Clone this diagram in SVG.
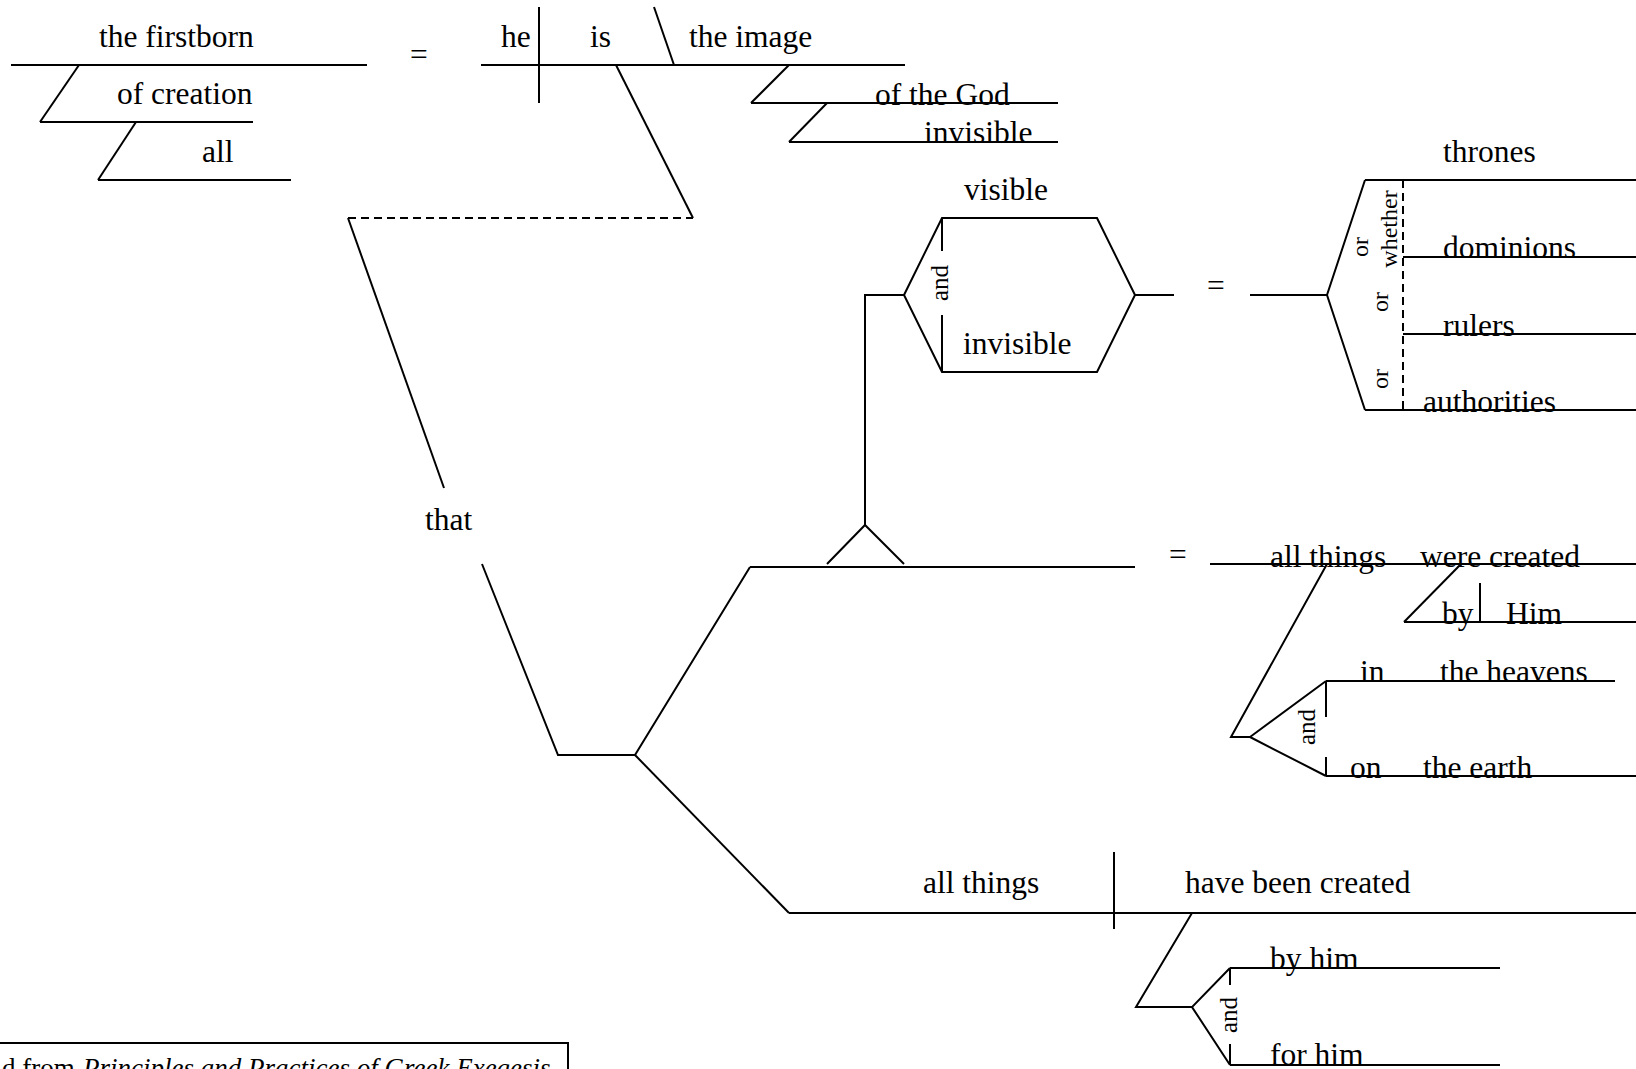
<svg xmlns="http://www.w3.org/2000/svg" width="1636" height="1069" viewBox="0 0 1636 1069">
  <style>
    .ln { stroke: #000; stroke-width: 2; fill: none; }
    .dash { stroke-dasharray: 8 5; }
    .t { font-family: "Liberation Serif", "Times New Roman", serif; font-size: 31.5px; fill: #000; }
    .s { font-size: 24px; }
    .c { font-size: 25px; }
    .f { font-size: 27px; }
  </style>
  <rect width="1636" height="1069" fill="#fff"/>

  <!-- subject complement: the firstborn of all creation -->
  <g id="n-firstborn">
    <line class="ln" x1="11" y1="65" x2="367" y2="65"/>
    <text class="t" x="99" y="47">the firstborn</text>
  </g>
  <g id="n-creation">
    <line class="ln" x1="40" y1="122" x2="253" y2="122"/>
    <text class="t" x="117" y="104">of creation</text>
  </g>
  <g id="n-all">
    <line class="ln" x1="98" y1="180" x2="291" y2="180"/>
    <text class="t" x="202" y="162">all</text>
  </g>
  <text id="eq-1" class="t" x="410" y="65">=</text>

  <!-- main clause: he is the image -->
  <g id="n-main">
    <line class="ln" x1="481" y1="65" x2="905" y2="65"/>
    <line class="ln" x1="539" y1="7" x2="539" y2="103"/>
    <line class="ln" x1="654" y1="7" x2="674" y2="65"/>
    <text class="t" x="501" y="47">he</text>
    <text class="t" x="590" y="47">is</text>
    <text class="t" x="689" y="47">the image</text>
  </g>
  <g id="n-god">
    <line class="ln" x1="751" y1="103" x2="1058" y2="103"/>
    <text class="t" x="875" y="105">of the God</text>
  </g>
  <g id="n-invisible-god">
    <line class="ln" x1="789" y1="142" x2="1058" y2="142"/>
    <text class="t" x="924" y="143">invisible</text>
  </g>

  <g id="n-that">
    <text class="t" x="425" y="530">that</text>
  </g>

  <!-- first clause: ... = all things were created -->
  <g id="n-clause1">
    <line class="ln" x1="750" y1="567" x2="1135" y2="567"/>
    <polyline class="ln" points="827,564 865,525 904,564"/>
  </g>
  <g id="n-visible-invisible">
    <path class="ln" d="M904,295 L942,218 L1097,218 L1135,295 L1097,372 L942,372 Z"/>
    <line class="ln" x1="942" y1="218" x2="942" y2="251"/>
    <line class="ln" x1="942" y1="315" x2="942" y2="372"/>
    <text class="t c" x="948" y="283" text-anchor="middle" transform="rotate(-90 948 283)">and</text>
    <text class="t" x="964" y="200">visible</text>
    <text class="t" x="963" y="354">invisible</text>
  </g>
  <text id="eq-2" class="t" x="1207" y="296">=</text>
  <g id="n-thrones">
    <line class="ln" x1="1365" y1="180" x2="1636" y2="180"/>
    <line class="ln" x1="1403" y1="257" x2="1636" y2="257"/>
    <line class="ln" x1="1403" y1="334" x2="1636" y2="334"/>
    <line class="ln" x1="1365" y1="410" x2="1636" y2="410"/>
    <line class="ln dash" x1="1403" y1="180" x2="1403" y2="410"/>
    <text class="t" x="1443" y="162">thrones</text>
    <text class="t" x="1443" y="258">dominions</text>
    <text class="t" x="1443" y="336">rulers</text>
    <text class="t" x="1423" y="412">authorities</text>
    <text class="t s" x="1397" y="229" text-anchor="middle" transform="rotate(-90 1397 229)">whether</text>
    <text class="t s" x="1368" y="247" text-anchor="middle" transform="rotate(-90 1368 247)">or</text>
    <text class="t s" x="1388" y="302" text-anchor="middle" transform="rotate(-90 1388 302)">or</text>
    <text class="t s" x="1388" y="379" text-anchor="middle" transform="rotate(-90 1388 379)">or</text>
  </g>

  <text id="eq-3" class="t" x="1169" y="565">=</text>
  <g id="n-created">
    <line class="ln" x1="1210" y1="564" x2="1636" y2="564"/>
    <text class="t" x="1270" y="567">all things</text>
    <text class="t" x="1420" y="567">were created</text>
  </g>
  <g id="n-by-him">
    <line class="ln" x1="1404" y1="622" x2="1636" y2="622"/>
    <line class="ln" x1="1480" y1="583" x2="1480" y2="622"/>
    <text class="t" x="1442" y="624">by</text>
    <text class="t" x="1506" y="624">Him</text>
  </g>
  <g id="n-heavens-earth">
    <line class="ln" x1="1326" y1="681" x2="1615" y2="681"/>
    <line class="ln" x1="1326" y1="776" x2="1636" y2="776"/>
    <line class="ln" x1="1326" y1="681" x2="1326" y2="717"/>
    <line class="ln" x1="1326" y1="757" x2="1326" y2="776"/>
    <text class="t c" x="1315" y="727" text-anchor="middle" transform="rotate(-90 1315 727)">and</text>
    <text class="t" x="1360" y="682">in</text>
    <text class="t" x="1440" y="682">the heavens</text>
    <text class="t" x="1350" y="778">on</text>
    <text class="t" x="1423" y="778">the earth</text>
  </g>

  <!-- second clause: all things have been created by him and for him -->
  <g id="n-clause2">
    <line class="ln" x1="789" y1="913" x2="1636" y2="913"/>
    <line class="ln" x1="1114" y1="852" x2="1114" y2="929"/>
    <text class="t" x="923" y="893">all things</text>
    <text class="t" x="1185" y="893">have been created</text>
  </g>
  <g id="n-by-for">
    <line class="ln" x1="1230" y1="968" x2="1500" y2="968"/>
    <line class="ln" x1="1230" y1="1065" x2="1500" y2="1065"/>
    <line class="ln" x1="1230" y1="968" x2="1230" y2="985"/>
    <line class="ln" x1="1230" y1="1044" x2="1230" y2="1065"/>
    <text class="t c" x="1237" y="1015" text-anchor="middle" transform="rotate(-90 1237 1015)">and</text>
    <text class="t" x="1270" y="969">by him</text>
    <text class="t" x="1270" y="1065">for him</text>
  </g>

  <g id="connectors">
    <line class="ln" x1="79" y1="65" x2="40" y2="122"/>
    <line class="ln" x1="136" y1="122" x2="98" y2="180"/>
    <line class="ln" x1="789" y1="65" x2="751" y2="103"/>
    <line class="ln" x1="827" y1="103" x2="789" y2="142"/>
    <line class="ln" x1="616" y1="65" x2="693" y2="218"/>
    <line class="ln dash" x1="348" y1="218" x2="693" y2="218"/>
    <line class="ln" x1="348" y1="218" x2="444" y2="488"/>
    <polyline class="ln" points="482,564 558,755 635,755 750,567"/>
    <line class="ln" x1="635" y1="755" x2="789" y2="913"/>
    <polyline class="ln" points="865,525 865,295 904,295"/>
    <line class="ln" x1="1135" y1="295" x2="1174" y2="295"/>
    <line class="ln" x1="1250" y1="295" x2="1327" y2="295"/>
    <polyline class="ln" points="1365,180 1327,295 1365,410"/>
    <line class="ln" x1="1461" y1="564" x2="1404" y2="622"/>
    <polyline class="ln" points="1327,564 1231,737 1250,737"/>
    <polyline class="ln" points="1326,681 1250,737 1326,776"/>
    <polyline class="ln" points="1192,913 1136,1007 1192,1007"/>
    <polyline class="ln" points="1230,968 1192,1007 1230,1065"/>
  </g>

  <!-- source note, running off the lower edge -->
  <g id="note">
    <polyline class="ln" points="0,1043 568,1043 568,1069"/>
    <text class="t f" x="2" y="1077">d from <tspan font-style="italic" x="83">Principles and Practices of Greek Exegesis</tspan></text>
  </g>
</svg>
